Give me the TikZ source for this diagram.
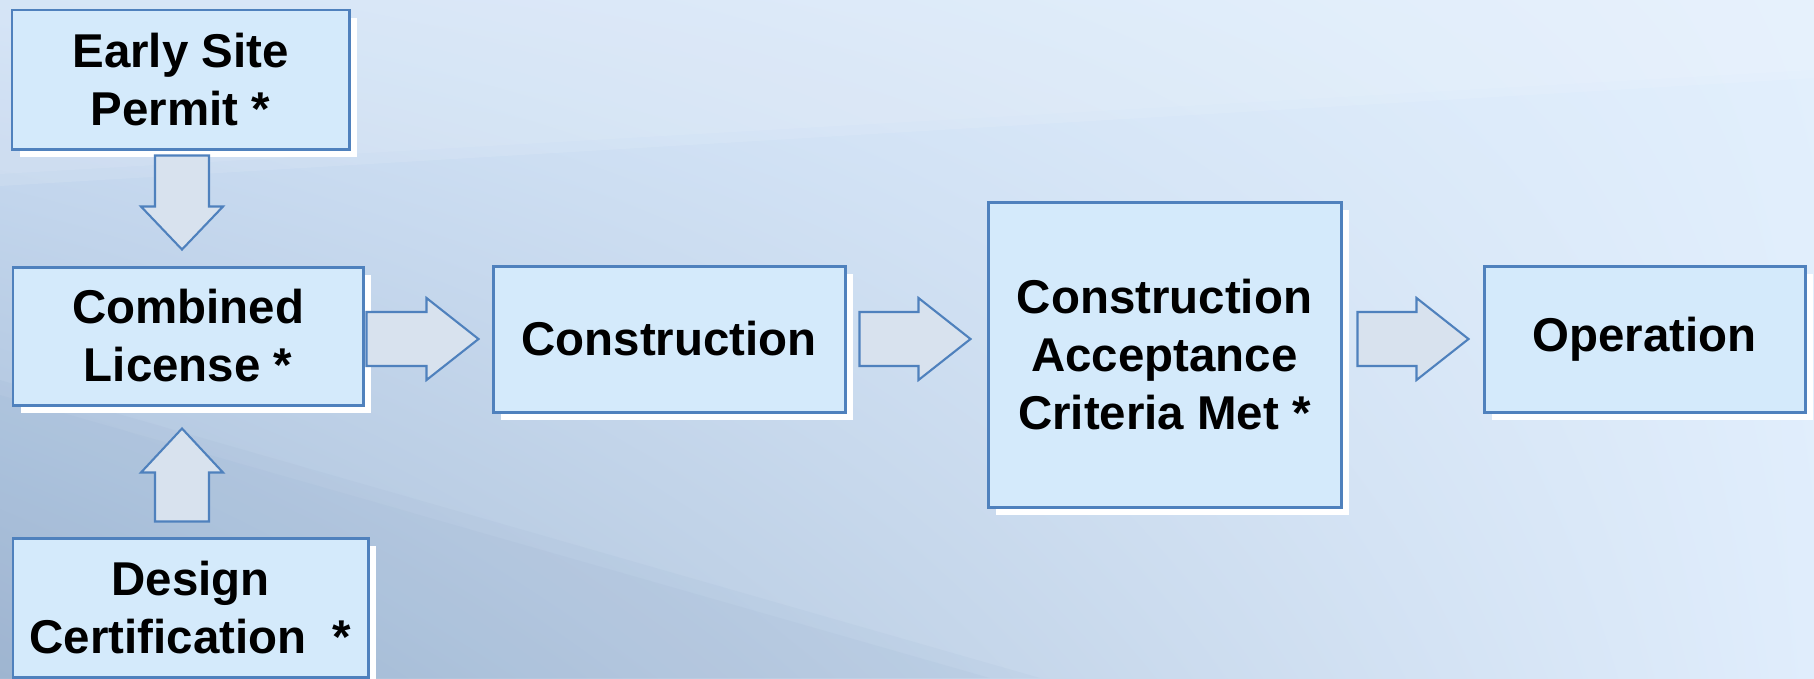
\documentclass[tikz,border=0pt]{standalone}
\usepackage{fontspec}
\setmainfont{Liberation Sans}
\usetikzlibrary{calc,shadows,shadings}
\definecolor{boxfill}{RGB}{212,234,251}
\definecolor{boxline}{RGB}{79,129,189}
\definecolor{arrowfill}{RGB}{216,226,238}
\definecolor{bgtl}{RGB}{206,224,246}
\definecolor{bgtr}{RGB}{226,239,252}
\definecolor{bgbl}{RGB}{164,186,212}
\definecolor{bgbr}{RGB}{224,237,252}
\definecolor{bgdark}{RGB}{120,150,190}

\tikzset{
	stage/.style={draw=boxline, line width=0.85pt, fill=boxfill, inner sep=0pt, align=center,
		font=\fontsize{13.5}{16.5}\selectfont\bfseries,
		drop shadow={shadow xshift=0.08cm, shadow yshift=-0.08cm, fill=white, opacity=1}},
	bigarrow/.style={draw=boxline, line width=0.6pt, fill=arrowfill, line join=miter}
}

% block arrow from tail coordinate #2 to tip coordinate #3, head length #1 (cm)
\newcommand\blockarrow[3][0.52]{%
	\coordinate (ah) at ($(#3)!#1cm!(#2)$);
	\draw[bigarrow] ($(#2)!0.27cm!90:(#3)$) -- ($(ah)!0.27cm!90:(#3)$) -- ($(ah)!0.41cm!90:(#3)$) -- (#3)
		-- ($(ah)!0.41cm!-90:(#3)$) -- ($(ah)!0.27cm!-90:(#3)$) -- ($(#2)!0.27cm!-90:(#3)$) -- cycle;}

\begin{document}
\begin{tikzpicture}
			%%%%% BACKGROUND %%%%%
			\useasboundingbox (0,0) rectangle (18.14,-6.78);
			\clip (0,0) rectangle (18.14,-6.78);
			\shade[upper left=bgtl, upper right=bgtr, lower left=bgbl, lower right=bgbr] (0,0) rectangle (18.14,-6.78);
			\fill[white, opacity=0.1] (0,0) -- (18.14,0) -- (18.14,-0.78) -- (0,-1.86) -- cycle;
			\fill[white, opacity=0.08] (0,0) -- (18.14,0) -- (18.14,-0.70) -- (0,-1.74) -- cycle;
			\fill[bgdark, opacity=0.06] (0,-3.8) -- (10.4,-6.78) -- (0,-6.78) -- cycle;
			\fill[bgdark, opacity=0.06] (0,-3.95) -- (9.9,-6.78) -- (0,-6.78) -- cycle;
			
			%%%%% STAGES %%%%%
			\node[stage, minimum width=3.37cm, minimum height=1.39cm] (esp) at (1.805,-0.795) {Early Site\\Permit *};
			\node[stage, minimum width=3.50cm, minimum height=1.38cm] (cl) at (1.88,-3.36) {Combined\\License *};
			\node[stage, minimum width=3.55cm, minimum height=1.39cm] (dc) at (1.905,-6.075) {Design\\Certification \ *};
			\node[stage, minimum width=3.52cm, minimum height=1.46cm] (con) at (6.69,-3.39) {Construction};
			\node[stage, minimum width=3.53cm, minimum height=3.05cm] (cac) at (11.645,-3.545) {Construction\\Acceptance\\Criteria Met *};
			\node[stage, minimum width=3.21cm, minimum height=1.46cm] (op) at (16.445,-3.39) {Operation};
			
			%%%%% ARROWS %%%%%
			\coordinate (a1s) at ($(cl.east |- con.west)+(0.02,0)$);
			\coordinate (a1e) at ($(con.west)+(-0.13,0)$);
			\coordinate (a2s) at ($(con.east)+(0.13,0)$);
			\coordinate (a2e) at ($(cac.west |- con.east)+(-0.16,0)$);
			\coordinate (a3s) at ($(cac.east |- op.west)+(0.15,0)$);
			\coordinate (a3e) at ($(op.west)+(-0.14,0)$);
			\coordinate (dns) at ($(esp.south)+(0.015,-0.05)$);
			\coordinate (dne) at ($(esp.south |- cl.north)+(0.015,0.16)$);
			\coordinate (ups) at ($(esp.south |- dc.north)+(0.015,0.15)$);
			\coordinate (upe) at ($(esp.south |- cl.south)+(0.015,-0.22)$);
			
			\blockarrow{a1s}{a1e}
			\blockarrow{a2s}{a2e}
			\blockarrow{a3s}{a3e}
			\blockarrow[0.43]{dns}{dne}
			\blockarrow[0.44]{ups}{upe}
			
			%%%%% END %%%%%
\end{tikzpicture}
\end{document}
